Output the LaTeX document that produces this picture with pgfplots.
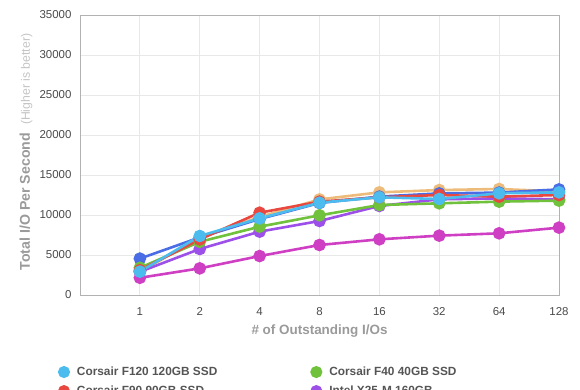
\documentclass[border=0pt]{standalone}
\usepackage{pgfplots}
\pgfplotsset{compat=1.18}
\usepackage{fontspec}
\setmainfont{Liberation Sans}
\definecolor{cLB}{HTML}{4CBCEF}
\definecolor{cGR}{HTML}{70C13C}
\definecolor{cRD}{HTML}{E8483F}
\definecolor{cPU}{HTML}{9C50E9}
\definecolor{cMG}{HTML}{CE3FC3}
\definecolor{cDB}{HTML}{4A6DE6}
\definecolor{cTN}{HTML}{EDBC7A}
\definecolor{tick}{HTML}{4A4A4A}
\definecolor{lab}{HTML}{9A9A9A}
\definecolor{sub}{HTML}{C4C4C4}
\definecolor{leg}{HTML}{555555}
\begin{document}
\begin{tikzpicture}
\useasboundingbox (-80bp,-95bp) rectangle (500bp,295bp);
\begin{axis}[
  scale only axis,
  width=479bp, height=280bp,
  xmin=-1, xmax=7, ymin=0, ymax=35000,
  xtick={0,...,7}, xticklabels={1,2,4,8,16,32,64,128},
  ytick={0,5000,...,35000},
  scaled y ticks=false,
  /pgf/number format/1000 sep={},
  /pgf/number format/assume math mode=true,
  major tick length=0pt,
  grid=major,
  major grid style={color=black!9, line width=0.8bp},
  axis line style={color=black!30, line width=0.8bp},
  tick label style={color=tick, font=\fontsize{11.5}{13}\selectfont},
  yticklabel style={xshift=-5bp},
  xticklabel style={yshift=-9bp},
  xlabel={\bfseries \# of Outstanding I/Os},
  xlabel style={color=lab, font=\fontsize{13.5}{15}\selectfont, yshift=-2bp},
  every axis plot/.append style={line width=2.6bp, mark=*, mark size=5bp},
  legend columns=2,
  legend cell align=left,
  legend image code/.code={\path[draw=none,fill=none] (-5bp,-4.7bp) rectangle (11bp,4.7bp); \fill[#1] (0bp,0bp) circle (4.7bp);},
  legend style={draw=none, fill=none, at={(rel axis cs:0,0)}, anchor=north west,
     xshift=-22bp, yshift=-70bp, inner sep=0pt, outer sep=0pt,
     font=\bfseries\fontsize{11.9}{13}\selectfont, text=leg,
     row sep=5bp,
     /tikz/every even column/.append style={column sep=91bp}},
]
\addplot[color=cTN, forget plot] coordinates {(0,2900) (1,7150) (2,9750) (3,11950) (4,12830) (5,13120) (6,13250) (7,12950)};
\addplot[color=cDB, forget plot] coordinates {(0,4550) (1,7200) (2,9500) (3,11500) (4,12300) (5,12700) (6,12800) (7,13200)};
\addplot[color=cMG, forget plot] coordinates {(0,2150) (1,3330) (2,4870) (3,6250) (4,6960) (5,7420) (6,7710) (7,8420)};
\addplot[color=cPU, forget plot] coordinates {(0,2900) (1,5750) (2,7920) (3,9250) (4,11130) (5,11960) (6,12080) (7,11960)};
\addplot[color=cGR, forget plot] coordinates {(0,3400) (1,6650) (2,8540) (3,9960) (4,11250) (5,11460) (6,11670) (7,11800)};
\addplot[color=cRD, forget plot] coordinates {(0,3100) (1,6950) (2,10290) (3,11670) (4,12210) (5,12500) (6,12290) (7,12500)};
\addplot[color=cLB, forget plot] coordinates {(0,2920) (1,7375) (2,9580) (3,11540) (4,12210) (5,12000) (6,12710) (7,12830)};
\addlegendimage{color=cLB}
\addlegendentry{Corsair F120 120GB SSD}
\addlegendimage{color=cGR}
\addlegendentry{Corsair F40 40GB SSD}
\addlegendimage{color=cRD}
\addlegendentry{Corsair F90 90GB SSD}
\addlegendimage{color=cPU}
\addlegendentry{Intel X25-M 160GB}
\end{axis}
\node[rotate=90, anchor=center] at (-54bp,143bp) {\textcolor{lab}{\bfseries\fontsize{14.2}{15}\selectfont Total I/O Per Second}\hspace{8bp}\textcolor{sub}{\fontsize{12.3}{13}\selectfont (Higher is better)}};
\end{tikzpicture}
\end{document}
